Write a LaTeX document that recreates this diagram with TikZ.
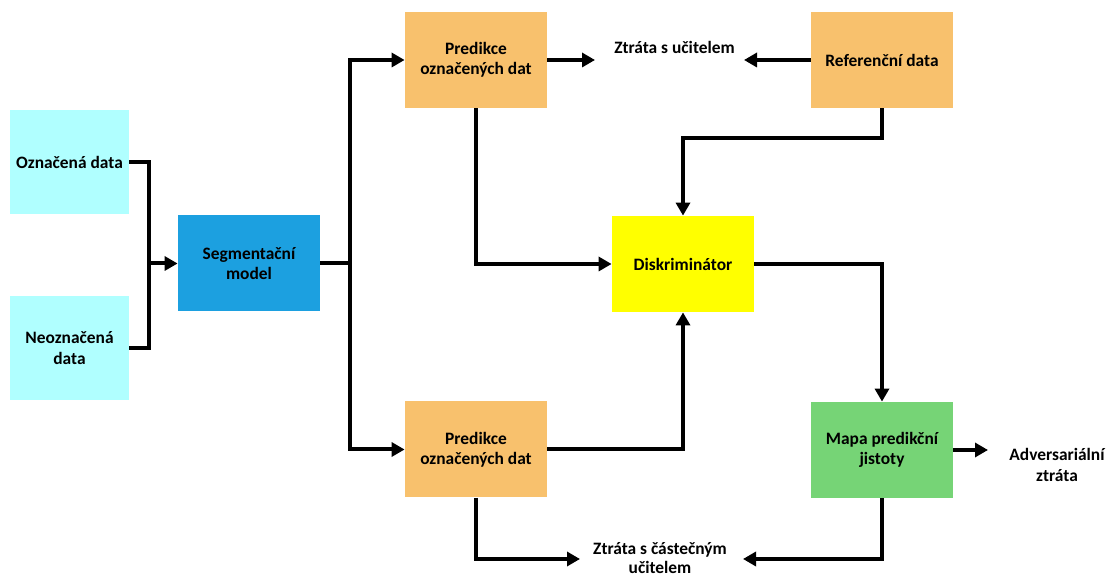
\documentclass[tikz,border=0pt]{standalone}
\usepackage{fontspec}
\setmainfont{Carlito}
\usetikzlibrary{arrows.meta}
\definecolor{datacyan}{HTML}{B0FFFF}
\definecolor{segblue}{HTML}{1CA0E0}
\definecolor{predorange}{HTML}{F8C16D}
\definecolor{discyellow}{HTML}{FFFF00}
\definecolor{mapgreen}{HTML}{76D476}
\begin{document}
\begin{tikzpicture}[x=0.5pt,y=-0.5pt,
  lbl/.style={inner sep=0pt, align=center, font=\bfseries\fontsize{8.7}{10.2}\selectfont},
  box/.style={lbl, minimum width=71pt, minimum height=48pt},
  databox/.style={lbl, fill=datacyan, minimum width=59.5pt, minimum height=52pt},
  wire/.style={line width=2pt, line join=miter},
  arr/.style={wire, -{Triangle[length=6.5pt,width=7pt]}}]
\useasboundingbox (0,0) rectangle (1110,577);

% input data
\node[databox] (od) at (69.5,162) {Označená data};
\node[databox] (nd) at (69.5,348) {Neoznačená\\data};

% processing blocks
\node[box, fill=segblue] (seg) at (249,263.5) {Segmentační\\model};
\node[box, fill=predorange] (p1) at (476,60) {Predikce\\označených dat};
\node[box, fill=predorange] (p2) at (476,449.5) {Predikce\\označených dat};
\node[box, fill=predorange] (ref) at (882,60) {Referenční data};
\node[box, fill=discyellow] (dis) at (683,264) {Diskriminátor};
\node[box, fill=mapgreen] (mapa) at (882,450) {Mapa predikční\\jistoty};

% loss labels
\node[lbl] (zt1) at (674.5,47) {Ztráta s učitelem};
\node[lbl, font=\bfseries\fontsize{8.7}{9.6}\selectfont] (zt2) at (660,558) {Ztráta s částečným\\učitelem};
\node[lbl] (adv) at (1057,465) {Adversariální\\ztráta};

% connector end points
\coordinate (j1) at (149,263.5);
\coordinate (j2) at (350,263.5);
\coordinate (zt1w) at (595,60);
\coordinate (zt1e) at (744,60);
\coordinate (zt2w) at (580,559);
\coordinate (zt2e) at (743,559);
\coordinate (advw) at (988,450);

% inputs into the segmentation model
\draw[wire] (od.east) -| (j1);
\draw[wire] (nd.east) -| (j1);
\draw[arr] (j1) -- (seg.west);

% segmentation model fan-out
\draw[wire] (seg.east) -- (j2);
\draw[arr] (j2) |- (p1.west);
\draw[arr] (j2) |- (p2.west);

% supervised loss
\draw[arr] (p1.east) -- (zt1w);
\draw[arr] (ref.west) -- (zt1e);

% discriminator inputs
\draw[arr] (ref.south) -- ++(0,30) -| (dis.north);
\draw[arr] (p1.south) |- (dis.west);
\draw[arr] (p2.east) -| (dis.south);

% discriminator output
\draw[arr] (dis.east) -| (mapa.north);
\draw[arr] (mapa.east) -- (advw);

% semi-supervised loss
\draw[arr] (p2.south) |- (zt2w);
\draw[arr] (mapa.south) |- (zt2e);
\end{tikzpicture}
\end{document}
